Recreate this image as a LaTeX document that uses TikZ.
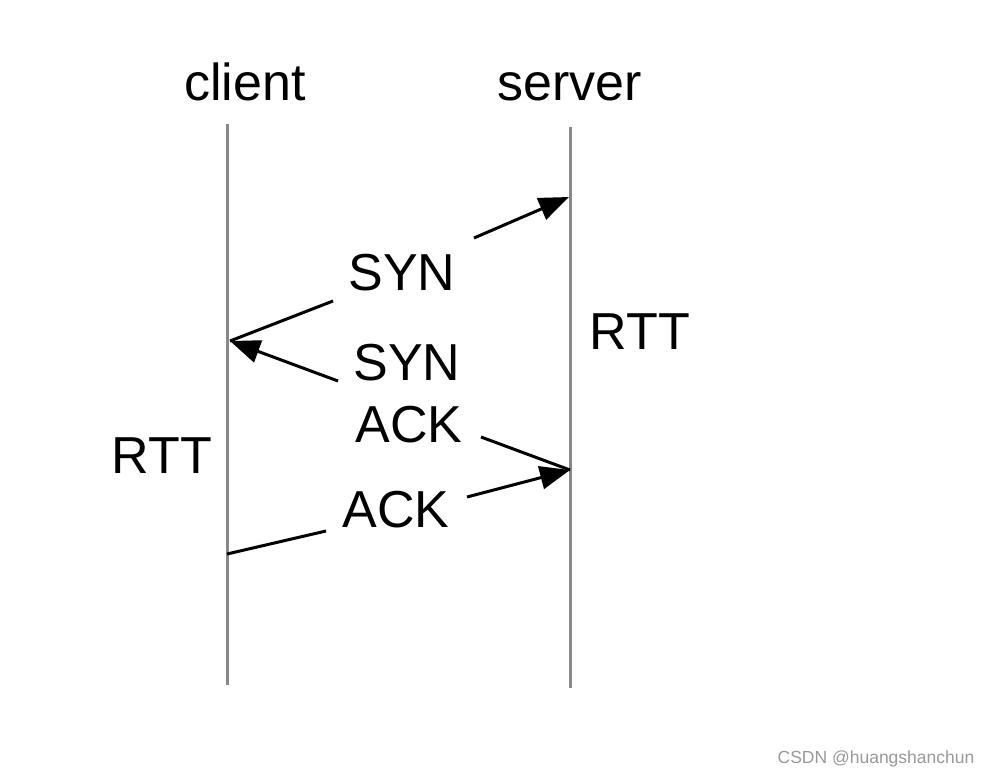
\documentclass[tikz,border=0pt]{standalone}
\usepackage{fontspec}
\setmainfont{Liberation Sans}
\usetikzlibrary{arrows.meta}
\definecolor{lifegray}{HTML}{888888}
\definecolor{markgray}{HTML}{999999}
\tikzset{
  lbl/.style={inner sep=0pt, anchor=base, font=\fontsize{52}{60}\selectfont},
  life/.style={draw=lifegray, line width=3pt},
  msg/.style={draw=black, line width=3pt},
  msgarrow/.style={msg, -{Triangle[length=30pt,width=23pt]}},
  wmark/.style={inner sep=0pt, anchor=base, text=markgray, font=\fontsize{17.5}{20}\selectfont}
}
\begin{document}
\begin{tikzpicture}[x=1pt,y=-1pt]
\useasboundingbox (0,0) rectangle (990,776);
% titles
\node[lbl] (client) at (245,100) {client};
\node[lbl] (server) at (570,100) {server};
% lifelines
\coordinate (ctop) at (227,124);
\coordinate (cbot) at (227,685);
\coordinate (stop) at (570,127);
\coordinate (sbot) at (570,688);
\draw[life] (ctop) -- (cbot);
\draw[life] (stop) -- (sbot);
% labels
\node[lbl] (syn1) at (402,290) {SYN};
\node[lbl] (syn2) at (407,380) {SYN};
\node[lbl] (ack1) at (409,442) {ACK};
\node[lbl] (ack2) at (396,527) {ACK};
\node[lbl] (rttS) at (640,349) {RTT};
\node[lbl] (rttC) at (162,473) {RTT};
% points on lifelines
\coordinate (s1) at (569,197);
\coordinate (c1) at (230,341);
\coordinate (s2) at (570,470);
\coordinate (c2) at (227,554);
% message segment ends near labels
\coordinate (a1) at (474,238);
\coordinate (a2) at (333,301);
\coordinate (a3) at (338,381);
\coordinate (a4) at (481,437);
\coordinate (a5) at (326,531);
\coordinate (a6) at (467,497);
% messages
\draw[msgarrow] (a1) -- (s1);
\draw[msg] (a2) -- (c1);
\draw[msgarrow] (a3) -- (c1);
\draw[msg] (a4) -- (s2);
\draw[msg] (c2) -- (a5);
\draw[msgarrow] (a6) -- (s2);
% watermark
\node[wmark] (wm) at (876,763) {CSDN @huangshanchun};
\end{tikzpicture}
\end{document}
